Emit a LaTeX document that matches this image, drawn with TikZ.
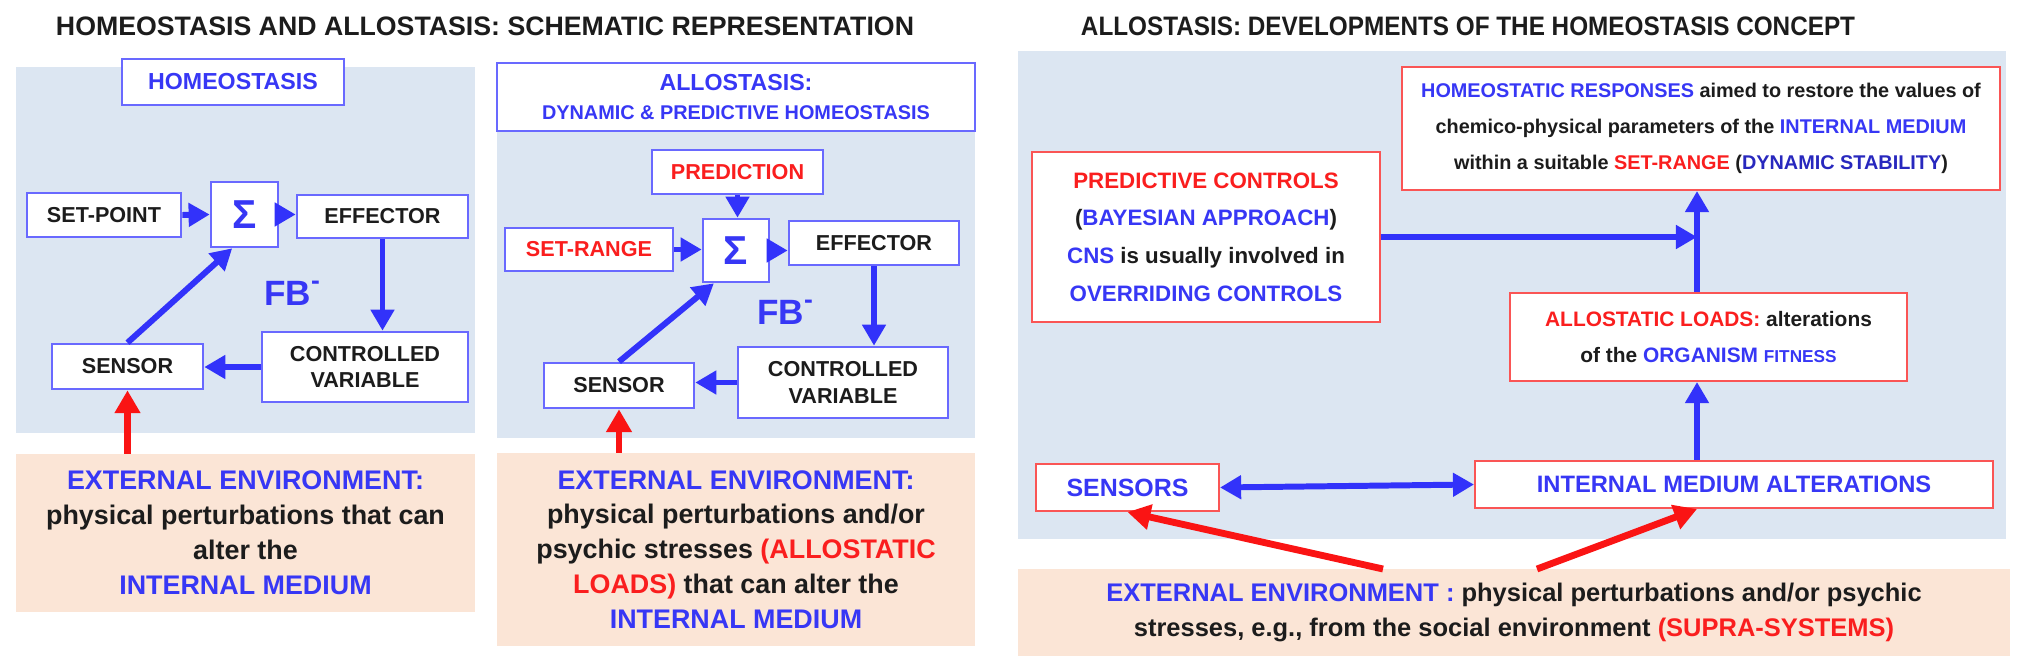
\documentclass[tikz,border=0pt]{standalone}
\usepackage{fontspec}
\setmainfont{Liberation Sans}
\usepackage{tikz}
\usetikzlibrary{arrows.meta}
\usepackage{xcolor}
\definecolor{bgblue}{RGB}{220,230,242}
\definecolor{peach}{RGB}{251,229,214}
\definecolor{edgeblue}{RGB}{105,105,255}
\definecolor{edgered}{RGB}{250,85,85}
\definecolor{txtblue}{RGB}{55,55,245}
\definecolor{txtred}{RGB}{250,30,30}
\definecolor{deepblue}{RGB}{40,40,190}
\definecolor{ink}{RGB}{28,28,28}
\definecolor{arrowblue}{RGB}{50,50,250}
\definecolor{arrowred}{RGB}{250,20,20}
\newcommand{\inblue}[1]{\textcolor{txtblue}{#1}}
\newcommand{\inred}[1]{\textcolor{txtred}{#1}}
\newcommand{\fsz}[2]{\fontsize{#1}{#2}\selectfont\bfseries}

\begin{document}
\begin{tikzpicture}[
    x=0.02cm, y=-0.02cm,
    backdrop/.style={fill=bgblue},
    unit/.style={rectangle, draw=edgeblue, line width=1.5pt, fill=white, inner sep=0pt, text=ink, font=\fsz{12.3}{15}},
    note/.style={rectangle, draw=edgered, line width=1.2pt, fill=white, inner sep=0pt, align=center, text=ink},
    ground/.style={rectangle, fill=peach, inner sep=0pt, align=center, text=ink},
    sum/.style={unit, text=txtblue, font=\fsz{23}{24}},
    fb/.style={text=txtblue, font=\fsz{20}{22}},
    heading/.style={text=ink, font=\fsz{15.2}{17}},
    flow/.style={draw=arrowblue, line width=3.4pt, -{Triangle[length=12pt,width=13pt]}},
    cause/.style={draw=arrowred, line width=3.9pt, -{Triangle[length=13pt,width=14pt]}}
  ]
  \useasboundingbox (0,0) rectangle (2031,669);
  \node[heading] (title1) at (485,26) {HOMEOSTASIS AND ALLOSTASIS: SCHEMATIC REPRESENTATION};
  \node[heading] (title2) at (1468,26) {\scalebox{0.91}[1]{ALLOSTASIS: DEVELOPMENTS OF THE HOMEOSTASIS CONCEPT}};

  \fill[backdrop] (16,67) rectangle (475,433);
  \fill[backdrop] (497,63) rectangle (975,438);
  \fill[backdrop] (1018,51) rectangle (2006,539);

  \node[unit, text=txtblue, font=\fsz{13.2}{15}, minimum width=4.44cm, minimum height=0.92cm] (homeo) at (233,82) {HOMEOSTASIS};
  \node[unit, minimum width=3.08cm, minimum height=0.88cm] (setpt) at (104,215) {SET-POINT};
  \node[sum, minimum width=1.34cm, minimum height=1.30cm] (sum1) at (244.5,214.5) {Σ};
  \node[unit, minimum width=3.42cm, minimum height=0.86cm] (eff1) at (382.5,216.5) {EFFECTOR};
  \node[unit, align=center, minimum width=4.12cm, minimum height=1.40cm] (ctrl1) at (365,367) {CONTROLLED\\VARIABLE};
  \node[unit, minimum width=3.02cm, minimum height=0.90cm] (sens1) at (127.5,366.5) {SENSOR};
  \node[fb] (fb1) at (292,293) {FB\raisebox{0.45em}{\fsz{15}{15}-}};
  \node[ground, font=\fsz{15.3}{20}, minimum width=9.18cm, minimum height=3.16cm] (env1) at (245.5,533)
    {\inblue{EXTERNAL ENVIRONMENT:}\\ physical perturbations that can\\ alter the\\ \inblue{INTERNAL MEDIUM}};

  \draw[flow] (setpt.east) -- (sum1.west);
  \draw[flow] (sum1.east) -- (sum1.east -| eff1.west);
  \draw[flow] (eff1.south) -- (eff1.south |- ctrl1.north);
  \draw[flow] (ctrl1.west) -- (ctrl1.west -| sens1.east);
  \draw[flow] (sens1.north) -- (sum1.250);
  \draw[cause] (sens1.south |- env1.north) -- (sens1.south);

  \node[unit, text=txtblue, align=center, font=\fsz{13.2}{19}, minimum width=9.56cm, minimum height=1.36cm] (allo) at (736,97)
    {ALLOSTASIS:\\[-2pt]{\fsz{11.3}{14}DYNAMIC \& PREDICTIVE HOMEOSTASIS}};
  \node[unit, text=txtred, minimum width=3.42cm, minimum height=0.88cm] (pred) at (737.5,172) {PREDICTION};
  \node[unit, text=txtred, minimum width=3.36cm, minimum height=0.86cm] (setrng) at (589,249.5) {SET-RANGE};
  \node[sum, minimum width=1.32cm, minimum height=1.26cm] (sum2) at (736,250.5) {Σ};
  \node[unit, minimum width=3.40cm, minimum height=0.88cm] (eff2) at (874,243) {EFFECTOR};
  \node[unit, align=center, minimum width=4.20cm, minimum height=1.42cm] (ctrl2) at (843,382.5) {CONTROLLED\\VARIABLE};
  \node[unit, minimum width=3.00cm, minimum height=0.90cm] (sens2) at (619,385.5) {SENSOR};
  \node[fb] (fb2) at (785,312) {FB\raisebox{0.45em}{\fsz{15}{15}-}};
  \node[ground, font=\fsz{15.3}{19.8}, minimum width=9.56cm, minimum height=3.86cm] (env2) at (736,549.5)
    {\inblue{EXTERNAL ENVIRONMENT:}\\ physical perturbations and/or\\ psychic stresses \inred{(ALLOSTATIC}\\ \inred{LOADS)} that can alter the\\ \inblue{INTERNAL MEDIUM}};

  \draw[flow] (pred.south) -- (pred.south |- sum2.north);
  \draw[flow] (setrng.east) -- (setrng.east -| sum2.west);
  \draw[flow] (sum2.east) -- (sum2.east -| eff2.west);
  \draw[flow] (eff2.south) -- (eff2.south |- ctrl2.north);
  \draw[flow] (ctrl2.west) -- (ctrl2.west -| sens2.east);
  \draw[flow] (sens2.north) -- (sum2.236);
  \draw[cause] (sens2.south |- env2.north) -- (sens2.south);

  \node[note, font=\fsz{11.3}{20.4}, minimum width=11.96cm, minimum height=2.46cm] (resp) at (1701,128.5)
    {\inblue{HOMEOSTATIC RESPONSES} aimed to restore the values of\\ chemico-physical parameters of the \inblue{INTERNAL MEDIUM}\\ within a suitable \inred{SET-RANGE} (\textcolor{deepblue}{DYNAMIC STABILITY})};
  \node[note, font=\fsz{12.7}{21.5}, minimum width=6.96cm, minimum height=3.40cm] (predctl) at (1206,237)
    {\inred{PREDICTIVE CONTROLS}\\ (\inblue{BAYESIAN APPROACH})\\ \inblue{CNS} is usually involved in\\ \inblue{OVERRIDING CONTROLS}};
  \node[note, font=\fsz{11.9}{21}, minimum width=7.94cm, minimum height=1.76cm] (loads) at (1708.5,337)
    {\inred{ALLOSTATIC LOADS:} alterations\\ of the \inblue{ORGANISM {\fsz{9.8}{12}FITNESS}}};
  \node[note, text=txtblue, font=\fsz{14.2}{16}, minimum width=3.66cm, minimum height=0.94cm] (sensors) at (1127.5,487.5) {SENSORS};
  \node[note, text=txtblue, font=\fsz{13.5}{16}, minimum width=10.36cm, minimum height=0.94cm] (intmed) at (1734,484.5) {INTERNAL MEDIUM ALTERATIONS};
  \node[ground, font=\fsz{14.5}{19.8}, minimum width=19.84cm, minimum height=1.74cm] (env3) at (1514,612.5)
    {\inblue{EXTERNAL ENVIRONMENT :} physical perturbations and/or psychic\\ stresses, e.g., from the social environment \inred{(SUPRA-SYSTEMS)}};

  \coordinate (spine) at (1697,237);
  \coordinate (src1) at (1383,569);
  \coordinate (src2) at (1537,569);
  \draw[flow] (predctl.east) -- (spine);
  \draw[flow] (loads.north -| spine) -- (resp.south -| spine);
  \draw[flow] (intmed.north -| spine) -- (loads.south -| spine);
  \draw[flow, {Triangle[length=12pt,width=13pt]}-{Triangle[length=12pt,width=13pt]}] (sensors.east) -- (intmed.west);
  \draw[cause] (src1) -- (sensors.south);
  \draw[cause] (src2) -- (intmed.south -| spine);
\end{tikzpicture}
\end{document}
